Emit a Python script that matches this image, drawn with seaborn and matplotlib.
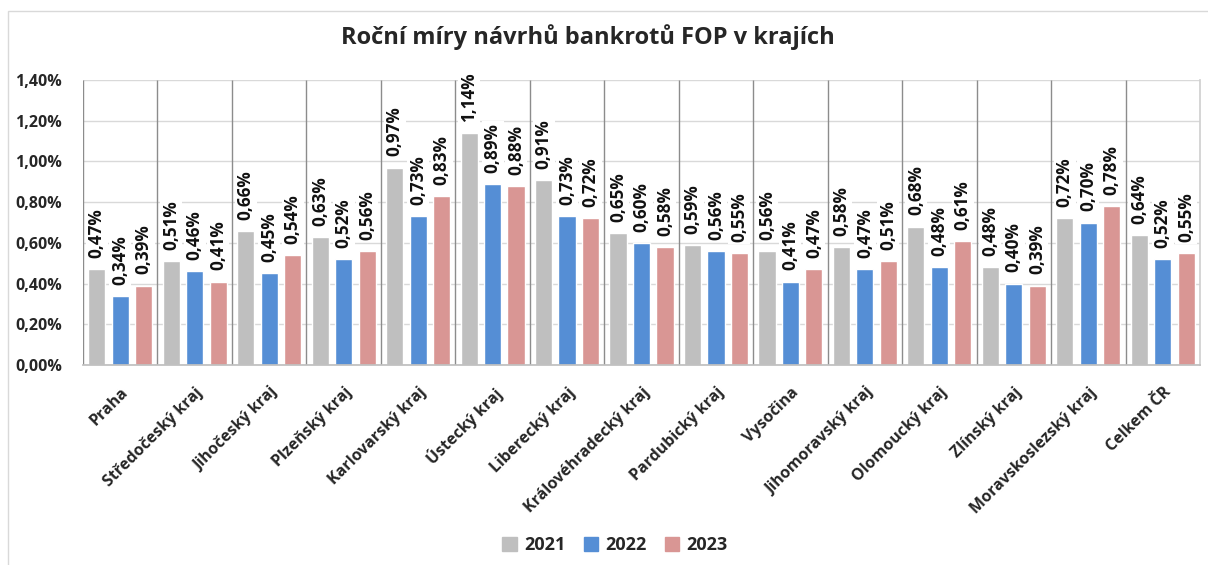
import pandas as pd
import matplotlib
matplotlib.use("Agg")
import matplotlib.pyplot as plt
import matplotlib.patches as mpatches
import seaborn as sns

# data (values in %)
regions = ["Praha", "Středočeský kraj", "Jihočeský kraj", "Plzeňský kraj",
           "Karlovarský kraj", "Ústecký kraj", "Liberecký kraj",
           "Královéhradecký kraj", "Pardubický kraj", "Vysočina",
           "Jihomoravský kraj", "Olomoucký kraj", "Zlínský kraj",
           "Moravskoslezský kraj", "Celkem ČR"]
years = ["2021", "2022", "2023"]
rate_2021 = [0.47, 0.51, 0.66, 0.63, 0.97, 1.14, 0.91, 0.65, 0.59, 0.56, 0.58, 0.68, 0.48, 0.72, 0.64]
rate_2022 = [0.34, 0.46, 0.45, 0.52, 0.73, 0.89, 0.73, 0.60, 0.56, 0.41, 0.47, 0.48, 0.40, 0.70, 0.52]
rate_2023 = [0.39, 0.41, 0.54, 0.56, 0.83, 0.88, 0.72, 0.58, 0.55, 0.47, 0.51, 0.61, 0.39, 0.78, 0.55]
yticks = [0.0, 0.2, 0.4, 0.6, 0.8, 1.0, 1.2, 1.4]
colors = ["#BFBFBF", "#558ED5", "#D99694"]

df = pd.DataFrame({
    "kraj": regions * 3,
    "rok": [y for y in years for _ in regions],
    "mira": rate_2021 + rate_2022 + rate_2023,
})

sns.set_theme(style="white")
plt.rcParams["font.family"] = ["Open Sans", "DejaVu Sans"]

fig = plt.figure(figsize=(12.08, 5.65), dpi=100)
ax = fig.add_axes([83 / 1208, 1 - 365 / 565, (1200 - 83) / 1208, (365 - 80) / 565])

sns.barplot(data=df, x="kraj", y="mira", hue="rok", palette=colors,
            width=0.945, saturation=1, ax=ax, legend=False, zorder=2)

# narrow the bars a bit so there are gaps between them
bar_w = 0.23
for p in ax.patches:
    cx = p.get_x() + p.get_width() / 2
    p.set_x(cx - bar_w / 2)
    p.set_width(bar_w)

fmt = lambda v: f"{v:.2f}%".replace(".", ",")
for cont in ax.containers:
    ax.bar_label(cont, labels=[fmt(v) for v in cont.datavalues], rotation=90,
                 padding=8, fontsize=12.3, fontweight="bold", color="#111111",
                 bbox=dict(boxstyle="square,pad=0.12", fc="white", ec="none"),
                 zorder=5, annotation_clip=False)

# separators between regions
ax.vlines([i - 0.5 for i in range(len(regions))], 0, 1.4, colors="#8c8c8c",
          linewidth=1, zorder=1)
ax.set_xlim(-0.5, len(regions) - 0.5)
ax.set_ylim(0, 1.4)
ax.set_yticks(yticks)
ax.set_yticklabels([fmt(v) for v in yticks], fontsize=11.5, fontweight="bold")
ax.yaxis.grid(True, color="#d9d9d9", linewidth=1)
ax.set_axisbelow(True)
ax.tick_params(axis="y", length=0, pad=15)
ax.tick_params(axis="x", length=0, pad=14)
plt.setp(ax.get_xticklabels(), rotation=45, ha="right", rotation_mode="anchor",
         fontsize=11.5, fontweight="bold")
ax.set_xlabel("")
ax.set_ylabel("")
for side in ["top", "left"]:
    ax.spines[side].set_visible(False)
ax.spines["bottom"].set_color("#bfbfbf")
ax.spines["right"].set_color("#d0d0d0")

fig.text(588 / 1208, 1 - 37 / 565, "Roční míry návrhů bankrotů FOP v krajích",
         ha="center", va="center", fontsize=17, fontweight="bold")

handles = [mpatches.Patch(color=c, label=y) for c, y in zip(colors, years)]
fig.legend(handles=handles, loc="center", bbox_to_anchor=(615 / 1208, 1 - 545 / 565),
           ncol=3, frameon=False, prop={"weight": "bold", "size": 13},
           handlelength=0.8, handleheight=0.8, handletextpad=0.4, columnspacing=1.0)

# light chart frame
fig.patches.append(mpatches.Rectangle((8 / 1208, -0.01), 1.1, 1 - 11 / 565 + 0.01,
                                      transform=fig.transFigure, fill=False,
                                      ec="#d9d9d9", lw=1))

fig.savefig("out.png", dpi=100)
